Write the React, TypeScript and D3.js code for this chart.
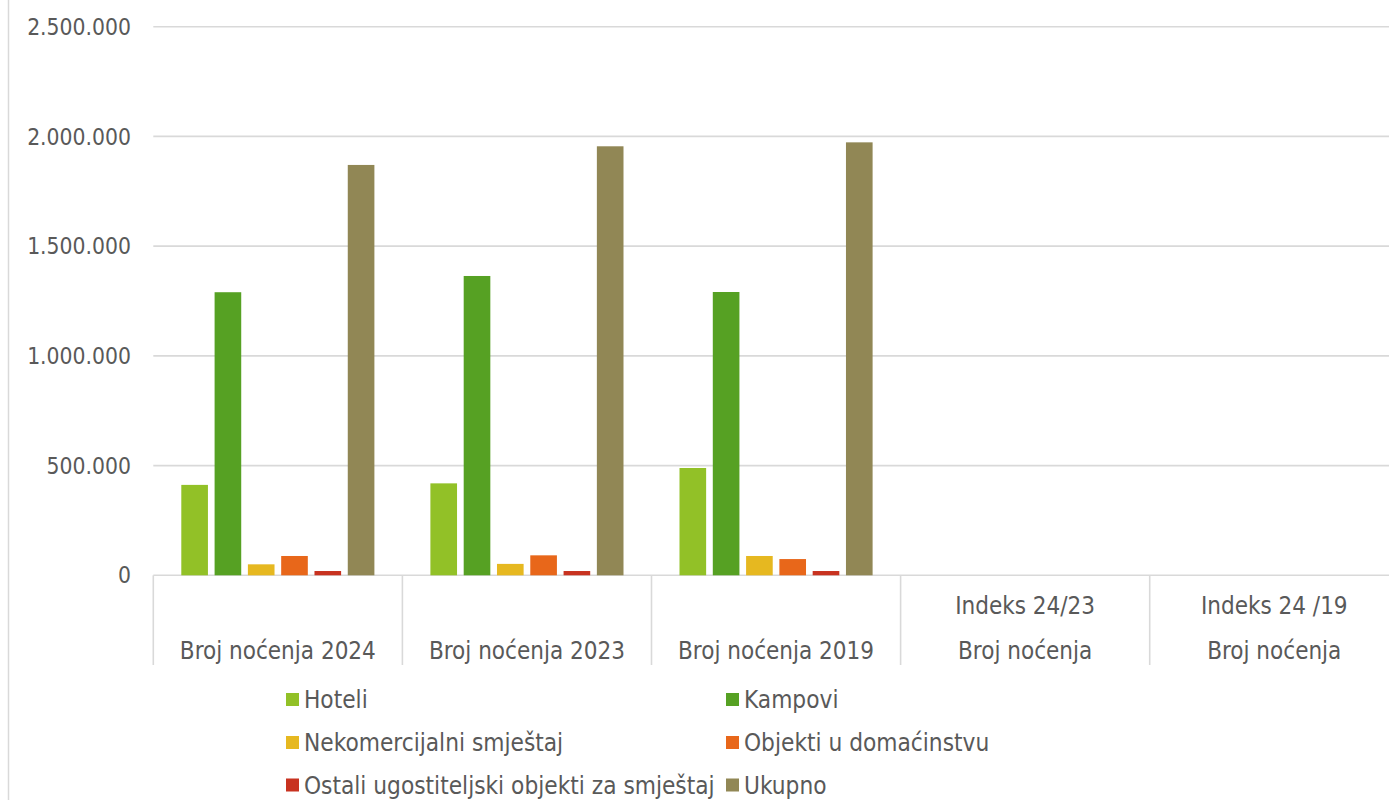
import React from "react";
import * as d3 from "d3";

const categories: string[][] = [
  ["Broj noćenja 2024"],
  ["Broj noćenja 2023"],
  ["Broj noćenja 2019"],
  ["Indeks 24/23", "Broj noćenja"],
  ["Indeks 24 /19", "Broj noćenja"],
];
const seriesNames = [
  "Hoteli",
  "Kampovi",
  "Nekomercijalni smještaj",
  "Objekti u domaćinstvu",
  "Ostali ugostiteljski objekti za smještaj",
  "Ukupno",
];
const seriesColors = ["#92C127", "#56A123", "#E6B820", "#E8671A", "#C83220", "#918755"];
const hoteli = [412000, 419000, 489000, 0.98, 0.84];
const kampovi = [1290000, 1364000, 1291000, 0.95, 1.0];
const nekomercijalni = [50000, 52000, 88000, 0.97, 0.57];
const objekti = [88000, 91000, 74000, 0.97, 1.18];
const ostali = [19500, 19500, 19500, 1.0, 1.0];
const ukupno = [1870000, 1955000, 1973000, 0.96, 0.95];
const seriesValues = [hoteli, kampovi, nekomercijalni, objekti, ostali, ukupno];
const yTicks = [0, 500000, 1000000, 1500000, 2000000, 2500000];

const FONT = "'DejaVu Sans Condensed', 'DejaVu Sans', sans-serif";
const TEXT = "#595959";
const GRID = "#d9d9d9";

export default function App() {
  const W = 1389, H = 800;
  const plotLeft = 153.3, band = 249.1;
  const plotRight = plotLeft + band * categories.length;
  const y = d3.scaleLinear().domain([0, 2500000]).range([575.3, 26.7]);
  const x0 = d3.scaleBand<number>().domain(categories.map((_, i) => i)).range([plotLeft, plotRight]).padding(0);
  const x1 = d3.scaleBand<number>().domain(seriesNames.map((_, i) => i)).range([28, band - 28]).paddingInner(0.2).paddingOuter(0);
  const loc = d3.formatLocale({ thousands: ".", decimal: ",", grouping: [3], currency: ["", ""] });
  const fmt = loc.format(",d");
  const fsAxis = 22.7;
  const fsCat = 24;
  const fsLeg = 24.2;

  const legendCols = [286, 726];
  const legendRows = [699.5, 742.5, 785];

  return (
    <svg width={W} height={H} style={{ position: "absolute", left: 0, top: 0, background: "#fff" }} fontFamily={FONT}>
      <rect x={0} y={0} width={W} height={H} fill="#fff" />
      <line x1={8.5} x2={8.5} y1={0} y2={H} stroke={GRID} strokeWidth={1.5} />
      {yTicks.map((t) => (
        <g key={t}>
          <line x1={plotLeft} x2={W} y1={y(t)} y2={y(t)} stroke={GRID} strokeWidth={1.6} />
          <text x={131} y={y(t)} dy="0.36em" textAnchor="end" fontSize={fsAxis} fill={TEXT}>{fmt(t)}</text>
        </g>
      ))}
      {categories.map((c, ci) => (
        <g key={ci}>
          {seriesValues.map((vals, si) => {
            const v = vals[ci];
            const bx = (x0(ci) as number) + (x1(si) as number);
            const top = y(v);
            return (
              <rect key={si} x={bx} y={top} width={x1.bandwidth()} height={Math.max(0, y(0) - top)}
                fill={seriesColors[si]} />
            );
          })}
        </g>
      ))}
      {d3.range(categories.length + 1).map((i) => (
        <line key={i} x1={plotLeft + i * band} x2={plotLeft + i * band} y1={y(0)} y2={665} stroke={GRID} strokeWidth={1.6} />
      ))}
      {categories.map((c, ci) => {
        const cx = (x0(ci) as number) + band / 2;
        return (
          <g key={ci}>
            {c.map((line, li) => (
              <text key={li} x={cx} y={659 - (c.length - 1 - li) * 45} textAnchor="middle" fontSize={fsCat} fill={TEXT}>{line}</text>
            ))}
          </g>
        );
      })}
      {seriesNames.map((name, si) => {
        const col = si % 2, row = Math.floor(si / 2);
        const lx = legendCols[col], ly = legendRows[row];
        return (
          <g key={si}>
            <rect x={lx} y={ly - 6.5} width={13} height={13} fill={seriesColors[si]} />
            <text x={lx + 18} y={ly} dy="0.36em" fontSize={fsLeg} fill={TEXT}>{name}</text>
          </g>
        );
      })}
    </svg>
  );
}
